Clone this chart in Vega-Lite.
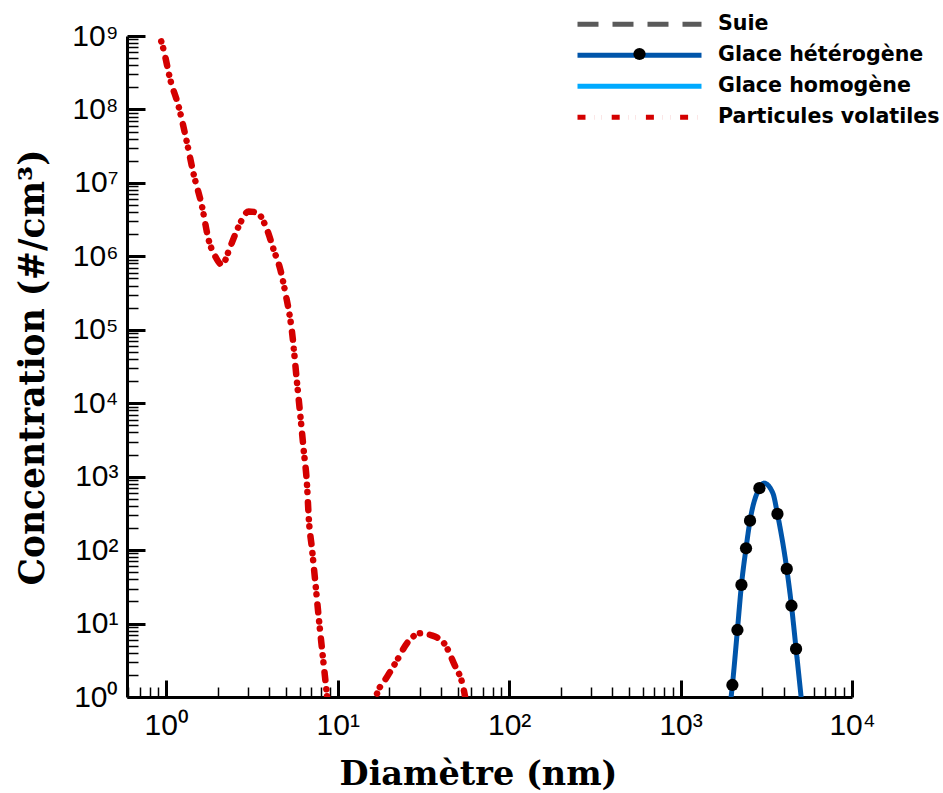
{
  "$schema": "https://vega.github.io/schema/vega-lite/v6.json",
  "autosize": {"type": "none"},
  "padding": {"left": 127, "top": 36, "right": 91, "bottom": 96},
  "width": 725,
  "height": 661,
  "background": "white",
  "config": {"view": {"stroke": null}},
  "datasets": {
    "volatiles": [
      {"series": "Particules volatiles", "seg": "a", "d": 0.87, "c": 1.4e9},
      {"series": "Particules volatiles", "seg": "a", "d": 0.964, "c": 6.53e8},
      {"series": "Particules volatiles", "seg": "a", "d": 1.055, "c": 2.55e8},
      {"series": "Particules volatiles", "seg": "a", "d": 1.18, "c": 1.10e8},
      {"series": "Particules volatiles", "seg": "a", "d": 1.32, "c": 3.53e7},
      {"series": "Particules volatiles", "seg": "a", "d": 1.437, "c": 1.38e7},
      {"series": "Particules volatiles", "seg": "a", "d": 1.616, "c": 4.78e6},
      {"series": "Particules volatiles", "seg": "a", "d": 1.766, "c": 1.68e6},
      {"series": "Particules volatiles", "seg": "a", "d": 1.932, "c": 9.96e5},
      {"series": "Particules volatiles", "seg": "a", "d": 2.114, "c": 7.69e5},
      {"series": "Particules volatiles", "seg": "a", "d": 2.364, "c": 1.36e6},
      {"series": "Particules volatiles", "seg": "a", "d": 2.642, "c": 2.55e6},
      {"series": "Particules volatiles", "seg": "a", "d": 3.023, "c": 4.09e6},
      {"series": "Particules volatiles", "seg": "a", "d": 3.385, "c": 3.93e6},
      {"series": "Particules volatiles", "seg": "a", "d": 3.871, "c": 2.30e6},
      {"series": "Particules volatiles", "seg": "a", "d": 4.23, "c": 1.23e6},
      {"series": "Particules volatiles", "seg": "a", "d": 4.63, "c": 6.57e5},
      {"series": "Particules volatiles", "seg": "a", "d": 4.95, "c": 3.19e5},
      {"series": "Particules volatiles", "seg": "a", "d": 5.42, "c": 9.1e4},
      {"series": "Particules volatiles", "seg": "a", "d": 5.79, "c": 1.9e4},
      {"series": "Particules volatiles", "seg": "a", "d": 6.06, "c": 6.6e3},
      {"series": "Particules volatiles", "seg": "a", "d": 6.33, "c": 2.32e3},
      {"series": "Particules volatiles", "seg": "a", "d": 6.63, "c": 733},
      {"series": "Particules volatiles", "seg": "a", "d": 6.77, "c": 286},
      {"series": "Particules volatiles", "seg": "a", "d": 7.09, "c": 100.7},
      {"series": "Particules volatiles", "seg": "a", "d": 7.41, "c": 35.7},
      {"series": "Particules volatiles", "seg": "a", "d": 7.74, "c": 12.4},
      {"series": "Particules volatiles", "seg": "a", "d": 8.11, "c": 4.37},
      {"series": "Particules volatiles", "seg": "a", "d": 8.59, "c": 1.25},
      {"series": "Particules volatiles", "seg": "a", "d": 8.83, "c": 0.665},
      {"series": "Particules volatiles", "seg": "b", "d": 15.9, "c": 0.665},
      {"series": "Particules volatiles", "seg": "b", "d": 16.98, "c": 1.12},
      {"series": "Particules volatiles", "seg": "b", "d": 19.43, "c": 1.89},
      {"series": "Particules volatiles", "seg": "b", "d": 22.23, "c": 3.19},
      {"series": "Particules volatiles", "seg": "b", "d": 25.42, "c": 5.44},
      {"series": "Particules volatiles", "seg": "b", "d": 30.4, "c": 7.38},
      {"series": "Particules volatiles", "seg": "b", "d": 34.77, "c": 6.99},
      {"series": "Particules volatiles", "seg": "b", "d": 41.6, "c": 5.44},
      {"series": "Particules volatiles", "seg": "b", "d": 47.55, "c": 2.88},
      {"series": "Particules volatiles", "seg": "b", "d": 54.4, "c": 1.25},
      {"series": "Particules volatiles", "seg": "b", "d": 56.4, "c": 0.78}
    ],
    "hetero": [
      {"series": "Glace hétérogène", "seg": "a", "d": 1961, "c": 0.9},
      {"series": "Glace hétérogène", "seg": "a", "d": 2006, "c": 1.457},
      {"series": "Glace hétérogène", "seg": "a", "d": 2146, "c": 8.18},
      {"series": "Glace hétérogène", "seg": "a", "d": 2265, "c": 33.6},
      {"series": "Glace hétérogène", "seg": "a", "d": 2409, "c": 106},
      {"series": "Glace hétérogène", "seg": "a", "d": 2542, "c": 252},
      {"series": "Glace hétérogène", "seg": "a", "d": 2884, "c": 697},
      {"series": "Glace hétérogène", "seg": "a", "d": 3069, "c": 815},
      {"series": "Glace hétérogène", "seg": "a", "d": 3455, "c": 596},
      {"series": "Glace hétérogène", "seg": "a", "d": 3673, "c": 311},
      {"series": "Glace hétérogène", "seg": "a", "d": 4164, "c": 55.4},
      {"series": "Glace hétérogène", "seg": "a", "d": 4436, "c": 17.5},
      {"series": "Glace hétérogène", "seg": "a", "d": 4718, "c": 4.51},
      {"series": "Glace hétérogène", "seg": "a", "d": 5073, "c": 0.9}
    ],
    "markers": [
      {"mk": "Glace hétérogène", "d": 2006, "c": 1.457},
      {"mk": "Glace hétérogène", "d": 2146, "c": 8.18},
      {"mk": "Glace hétérogène", "d": 2265, "c": 33.6},
      {"mk": "Glace hétérogène", "d": 2409, "c": 106},
      {"mk": "Glace hétérogène", "d": 2542, "c": 252},
      {"mk": "Glace hétérogène", "d": 2884, "c": 697},
      {"mk": "Glace hétérogène", "d": 3673, "c": 311},
      {"mk": "Glace hétérogène", "d": 4164, "c": 55.4},
      {"mk": "Glace hétérogène", "d": 4436, "c": 17.5},
      {"mk": "Glace hétérogène", "d": 4718, "c": 4.51}
    ]
  },
  "resolve": {"axis": {"x": "independent", "y": "independent"}},
  "layer": [
    {
      "data": {"name": "volatiles"},
      "mark": {"type": "line", "clip": true, "strokeWidth": 6.5, "strokeCap": "round", "strokeJoin": "round", "interpolate": "monotone"},
      "encoding": {
        "x": {
          "field": "d", "type": "quantitative",
          "scale": {"type": "log", "domain": [0.59, 10000], "nice": false, "zero": false},
          "axis": {
            "orient": "bottom", "values": [1, 10, 100, 1000, 10000], "grid": false,
            "domain": true, "domainColor": "black", "domainWidth": 3, "ticks": false,
            "labelExpr": "'10' + ['⁰','¹','²','³','⁴','⁵','⁶','⁷','⁸','⁹'][round(log(datum.value)/LN10)]",
            "labelFont": "Liberation Sans", "labelFontSize": 30, "labelColor": "black", "labelPadding": 13, "labelFlush": false, "labelOverlap": false, "labelBaseline": "top",
            "title": "Diamètre (nm)", "titleFont": "DejaVu Serif", "titleFontWeight": "bold", "titleFontSize": 33.5, "titleColor": "black",
            "titleX": 351, "titleY": 87, "titleAlign": "center", "titleBaseline": "alphabetic"
          }
        },
        "y": {
          "field": "c", "type": "quantitative",
          "scale": {"type": "log", "domain": [1, 1000000000], "nice": false, "zero": false},
          "axis": {
            "orient": "left", "values": [1, 10, 100, 1000, 10000, 100000, 1000000, 10000000, 100000000, 1000000000], "grid": false,
            "domain": true, "domainColor": "black", "domainWidth": 3, "ticks": false,
            "labelExpr": "'10' + ['⁰','¹','²','³','⁴','⁵','⁶','⁷','⁸','⁹'][round(log(datum.value)/LN10)]",
            "labelFont": "Liberation Sans", "labelFontSize": 30, "labelColor": "black", "labelPadding": 9, "labelFlush": false, "labelOverlap": false,
            "title": "Concentration (#/cm³)", "titleFont": "DejaVu Serif", "titleFontWeight": "bold", "titleFontSize": 34.5, "titleColor": "black",
            "titleX": -84, "titleY": 331, "titleAlign": "center", "titleBaseline": "alphabetic", "titleAngle": -90
          }
        },
        "detail": {"field": "seg"},
        "color": {
          "field": "series", "type": "nominal",
          "scale": {"domain": ["Suie", "Glace hétérogène", "Glace homogène", "Particules volatiles"], "range": ["#5a5a5a", "#0055aa", "#00aaff", "#d40000"]},
          "legend": {
            "title": null, "orient": "none", "legendX": 448, "legendY": -27,
            "symbolType": "stroke", "symbolSize": 15376, "symbolStrokeWidth": 5,
            "labelFont": "DejaVu Sans", "labelFontWeight": "bold", "labelFontSize": 20.6, "labelColor": "black", "labelLimit": 400,
            "labelOffset": 14, "clipHeight": 30.7, "rowPadding": 0, "padding": 0
          }
        },
        "strokeDash": {
          "field": "series", "type": "nominal",
          "scale": {"domain": ["Suie", "Glace hétérogène", "Glace homogène", "Particules volatiles"], "range": [[21, 14], [1, 0], [1, 0], [8, 9, 0.1, 7, 0.1, 10]]},
          "legend": {
            "title": null, "orient": "none", "legendX": 448, "legendY": -27,
            "symbolType": "stroke", "symbolSize": 15376, "symbolStrokeWidth": 5,
            "labelFont": "DejaVu Sans", "labelFontWeight": "bold", "labelFontSize": 20.6, "labelColor": "black", "labelLimit": 400,
            "labelOffset": 14, "clipHeight": 30.7, "rowPadding": 0, "padding": 0
          }
        }
      }
    },
    {
      "data": {"name": "hetero"},
      "mark": {"type": "line", "clip": true, "strokeWidth": 5, "strokeCap": "round", "strokeJoin": "round", "interpolate": "monotone"},
      "encoding": {
        "x": {
          "field": "d", "type": "quantitative",
          "axis": {
            "orient": "top", "offset": -661, "values": [1, 10, 100, 1000, 10000],
            "grid": false, "domain": false, "labels": false, "title": null,
            "ticks": true, "tickSize": 17, "tickWidth": 3, "tickColor": "black"
          }
        },
        "y": {
          "field": "c", "type": "quantitative",
          "axis": {
            "orient": "right", "offset": -725, "values": [1, 10, 100, 1000, 10000, 100000, 1000000, 10000000, 100000000, 1000000000],
            "grid": false, "domain": false, "labels": false, "title": null,
            "ticks": true, "tickSize": 18, "tickWidth": 3, "tickColor": "black"
          }
        },
        "detail": {"field": "seg"},
        "color": {"field": "series", "type": "nominal"},
        "strokeDash": {"field": "series", "type": "nominal"}
      }
    },
    {
      "data": {"name": "markers"},
      "mark": {"type": "point", "filled": true, "color": "black", "opacity": 1, "size": 150, "clip": true},
      "encoding": {
        "x": {
          "field": "d", "type": "quantitative",
          "axis": {
            "orient": "top", "offset": -661, "values": [0.6, 0.7, 0.8, 0.9, 2, 3, 4, 5, 6, 7, 8, 9, 20, 30, 40, 50, 60, 70, 80, 90, 200, 300, 400, 500, 600, 700, 800, 900, 2000, 3000, 4000, 5000, 6000, 7000, 8000, 9000],
            "grid": false, "domain": false, "labels": false, "title": null,
            "ticks": true, "tickSize": 10, "tickWidth": 1.5, "tickColor": "black"
          }
        },
        "y": {
          "field": "c", "type": "quantitative",
          "axis": {
            "orient": "right", "offset": -725, "values": [2, 3, 4, 5, 6, 7, 8, 9, 20, 30, 40, 50, 60, 70, 80, 90, 200, 300, 400, 500, 600, 700, 800, 900, 2000, 3000, 4000, 5000, 6000, 7000, 8000, 9000, 20000, 30000, 40000, 50000, 60000, 70000, 80000, 90000, 200000, 300000, 400000, 500000, 600000, 700000, 800000, 900000, 2000000, 3000000, 4000000, 5000000, 6000000, 7000000, 8000000, 9000000, 20000000, 30000000, 40000000, 50000000, 60000000, 70000000, 80000000, 90000000, 200000000, 300000000, 400000000, 500000000, 600000000, 700000000, 800000000, 900000000],
            "grid": false, "domain": false, "labels": false, "title": null,
            "ticks": true, "tickSize": 11, "tickWidth": 1.5, "tickColor": "black"
          }
        },
        "shape": {
          "field": "mk", "type": "nominal",
          "scale": {"domain": ["Glace hétérogène"], "range": ["circle"]},
          "legend": {
            "title": null, "orient": "none", "legendX": 506, "legendY": 11.5, "zindex": 2,
            "labelExpr": "''", "symbolFillColor": "black", "symbolStrokeColor": "black", "symbolSize": 150, "symbolStrokeWidth": 0, "padding": 0
          }
        }
      }
    }
  ]
}
